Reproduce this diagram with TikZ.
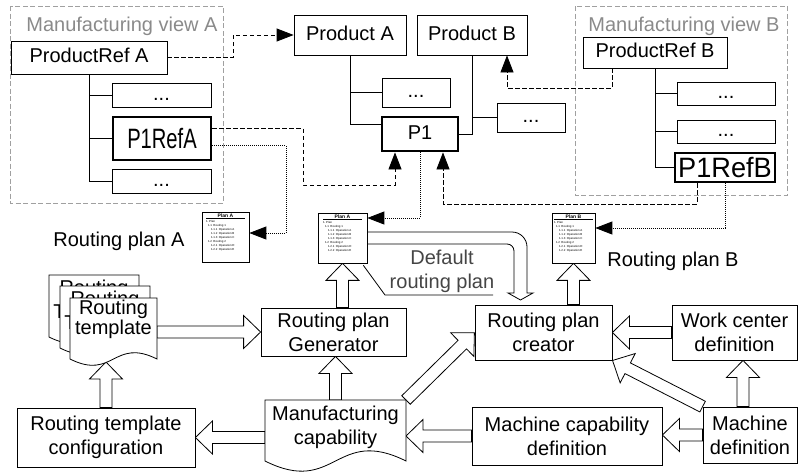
\documentclass[tikz,border=0pt]{standalone}
\usepackage{fontspec}
\usepackage{graphicx}
\setmainfont{Liberation Sans}
\usetikzlibrary{arrows.meta,calc,backgrounds}

\definecolor{viewgray}{HTML}{A0A0A0}
\definecolor{titlegray}{HTML}{8A8A8A}
\definecolor{notegray}{HTML}{454545}

\tikzset{
  bigfont/.style={font=\fontsize{20}{24}\selectfont},
  lbox/.style={draw, fill=white, line width=0.8pt, inner sep=1pt, bigfont,
               text height=14.5pt, text depth=4pt},
  mbox/.style={draw, fill=white, line width=0.8pt, inner sep=1pt, bigfont, align=center},
  thickbox/.style={line width=2.8pt},
  refbox/.style={lbox, thickbox, font=\fontsize{28}{30}\selectfont,
                 text height=20pt, text depth=0pt},
  viewbox/.style={draw=viewgray, dash pattern=on 5pt off 2.5pt, line width=0.9pt},
  viewtitle/.style={text=titlegray, bigfont, inner sep=0pt},
  tiptri/.style={-{Triangle[length=17pt,width=13pt]}},
  dashconn/.style={line width=0.8pt, dash pattern=on 4.5pt off 2.5pt, tiptri},
  dotconn/.style={line width=0.8pt, dash pattern=on 1pt off 1pt, tiptri},
  tree/.style={line width=0.8pt},
  hollow/.style={draw, fill=white, line width=0.8pt, line join=miter},
  plandoc/.style={draw, fill=white, line width=0.7pt, inner sep=0pt},
  docline/.style={draw, fill=white, line width=0.8pt},
  holder/.style={inner sep=0pt, outer sep=0pt},
  doctext/.style={inner sep=0pt, bigfont, align=center},
  lbl/.style={inner sep=0pt, bigfont},
  note/.style={inner sep=0pt, bigfont, align=center, text=notegray},
}

% rectangle node from its corners: [style] name x1 y1 x2 y2 text
\newcommand\rnode[7][]{%
  \node[#1, minimum width={#5-#3}, minimum height={#6-#4}] (#2)
    at ({(#3+#5)/2},{(#4+#6)/2}) {#7};}

% document shape with a wavy lower edge: [text style] name x top width waveline text
\newcommand\docnode[7][]{%
  \filldraw[docline] (#3,#4) -- ({#3+#5},#4) -- ({#3+#5},#6)
    .. controls ({#3+#5/2},{#6-#5/4}) and ({#3+#5/2},{#6+#5/4}) .. (#3,#6) -- cycle;
  \node[holder, minimum width={#5}, minimum height={#6-#4}] (#2)
    at ({#3+#5/2},{(#4+#6)/2}) {};
  \node[doctext, #1] (#2txt) at (#2.center) {#7};}

% hollow block arrow from #1 to #2
\newcommand\blockarrow[2]{%
  \draw[hollow] let \p1=(#1), \p2=(#2),
      \n1={atan2(\y2-\y1,\x2-\x1)}, \n2={veclen(\x2-\x1,\y2-\y1)} in
    [shift={(\p1)}, rotate=\n1]
    (0pt,-6pt) -- (\n2-17pt,-6pt) -- (\n2-17pt,-16.5pt) -- (\n2,0pt)
    -- (\n2-17pt,16.5pt) -- (\n2-17pt,6pt) -- (0pt,6pt) -- cycle;}

% small routing plan sheet
\newcommand\plancontent[1]{%
  \begin{minipage}[c][46pt][t]{39pt}
    \centering\fontsize{5}{5.5}\selectfont\bfseries #1\par
    \vspace{0.8pt}\hrule height 0.6pt\vspace{1.8pt}
    \raggedright\fontsize{2.9}{3.95}\selectfont\mdseries
    1.\ Plan\par
    \hspace*{2pt}1.1\enspace Routing 1\par
    \hspace*{5pt}1.1.1\enspace Operation A\par
    \hspace*{5pt}1.1.2\enspace Operation B\par
    \hspace*{5pt}1.1.3\enspace Operation C\par
    \hspace*{2pt}1.2\enspace Routing 2\par
    \hspace*{5pt}1.2.1\enspace Operation D\par
    \hspace*{5pt}1.2.2\enspace Operation E\par
  \end{minipage}}

\begin{document}
\begin{tikzpicture}[x=1pt, y=-1pt]
\useasboundingbox (0,0) rectangle (798,472);

% ---------- product structure ----------
\rnode[lbox]{prefA}{11}{41}{167}{74}{ProductRef A}
\rnode[lbox]{dotsA1}{112}{83}{211}{107}{...}
\rnode[refbox]{p1refA}{113}{117}{211}{160}{\scalebox{0.72}[1]{P1RefA}}
\rnode[lbox]{dotsA2}{112}{169}{211}{193}{...}

\rnode[lbox]{prodA}{294}{15}{406}{55}{Product A}
\rnode[lbox]{prodB}{417}{15}{527}{55}{Product B}
\rnode[lbox]{dotsP}{382}{78}{450}{107}{...}
\rnode[lbox,thickbox]{p1}{382}{117}{458}{151}{P1}
\rnode[lbox]{dotsB}{497}{103}{565}{132}{...}

\rnode[lbox]{prefB}{583}{37}{727}{68}{ProductRef B}
\rnode[lbox]{dotsB1}{677}{82}{775}{105}{...}
\rnode[lbox]{dotsB2}{677}{120}{775}{143}{...}
\rnode[refbox]{p1refB}{675}{153}{775}{182}{\scalebox{0.97}[1]{P1RefB}}

\node[viewtitle] (viewAtitle) at (122,26) {Manufacturing view A};
\node[viewtitle] (viewBtitle) at (684,26) {Manufacturing view B};

% ---------- routing plan sheets ----------
\rnode[plandoc]{planAl}{202}{212}{249}{262}{\plancontent{Plan A}}
\rnode[plandoc]{planAm}{318}{213}{367}{263}{\plancontent{Plan A}}
\rnode[plandoc]{planB}{552}{213}{595}{263}{\plancontent{Plan B}}

\node[lbl] (lblA) at (119,241) {Routing plan A};
\node[lbl] (lblB) at (673,261) {Routing plan B};
\node[note] (defTxt) at (442,271.5) {Default\\routing plan};

% ---------- tools ----------
\rnode[mbox]{gen}{261}{308}{406}{356}{Routing plan\\Generator}
\rnode[mbox]{creator}{475}{305}{612}{360}{Routing plan\\creator}
\rnode[mbox]{work}{672}{305}{797}{360}{Work center\\definition}
\rnode[mbox]{mcd}{472}{407}{662}{465}{Machine capability\\definition}
\rnode[mbox]{mdef}{703}{407}{797}{463}{Machine\\definition}
\rnode[mbox]{config}{17}{408}{195}{467}{Routing template\\configuration}

\docnode[yshift=5pt]{tplK}{49}{275}{90}{337}{Routing\\Template}
\docnode[yshift=4.5pt]{tplM}{60}{286}{90}{348}{Routing\\Template}
\docnode[yshift=9pt, font=\fontsize{20}{16}\selectfont]{tplF}{70}{298}{87}{359}{Routing\\template}
\docnode[yshift=3pt]{mcap}{265}{400}{141}{461}{Manufacturing\\capability}

% ---------- connectors ----------
\begin{pgfonlayer}{background}
  \draw[viewbox] (10,6) rectangle (223,203);
  \draw[viewbox] (575,6) rectangle (787,195);

  % product trees
  \draw[tree] (prefA.south) |- (dotsA2.west);
  \draw[tree] (prefA.south |- dotsA1.west) -- (dotsA1.west);
  \draw[tree] (prefA.south |- p1refA.west) -- (p1refA.west);

  \coordinate (p1L) at ($(p1.west)+(0,-10)$);
  \draw[tree] (prodA.south) |- (p1L);
  \draw[tree] (prodA.south |- dotsP.west) -- (dotsP.west);
  \draw[tree] (prodB.south) |- (p1.east);
  \draw[tree] (prodB.south |- dotsB.west) -- (dotsB.west);

  \draw[tree] (prefB.south) |- (p1refB.west);
  \draw[tree] (prefB.south |- dotsB1.west) -- (dotsB1.west);
  \draw[tree] (prefB.south |- dotsB2.west) -- (dotsB2.west);

  % references between views and products
  \coordinate (bendA) at (233,0);
  \draw[dashconn] (prefA.east) -| (bendA |- prodA.west) -- (prodA.west);

  \coordinate (aOut1) at ($(p1refA.east)+(0,-10)$);
  \coordinate (aOut2) at ($(p1refA.east)+(0,7)$);
  \coordinate (p1In1) at ($(p1.south)+(-25,0)$);
  \coordinate (p1In2) at ($(p1.south)+(23,0)$);
  \coordinate (bendB) at (303,185);
  \draw[dashconn] (aOut1) -| (bendB) -| (p1In1);

  \coordinate (bendC) at (286,0);
  \coordinate (planAlIn) at ($(planAl.east)+(0,-4)$);
  \draw[dotconn] (aOut2) -| (bendC |- planAlIn) -- (planAlIn);

  \coordinate (planAmIn) at ($(planAm.east)+(0,-20)$);
  \draw[dotconn] (p1.south) |- (planAmIn);

  \coordinate (bOut1) at ($(p1refB.south)+(-28,0)$);
  \coordinate (bendD) at (0,204);
  \draw[dashconn] (bOut1) |- (bendD -| p1In2) -- (p1In2);

  \coordinate (planBIn) at ($(planB.east)+(0,-10)$);
  \draw[dotconn] (p1refB.south) |- (planBIn);

  \coordinate (cOut) at ($(prefB.south)+(-43,0)$);
  \coordinate (prodBIn) at ($(prodB.south)+(35,0)$);
  \coordinate (bendE) at (0,88);
  \draw[dashconn] (cOut) |- (bendE -| prodBIn) -- (prodBIn);

  % default routing plan handed to the creator
  \draw[hollow] (367,232) -- (512,232) .. controls (520.3,232) and (527,238.7) .. (527,247)
    -- (527,293) -- (533,293) -- (520.5,300) -- (508,293) -- (514,293) -- (514,251)
    .. controls (514,247.1) and (510.9,244) .. (507,244) -- (367,244);
  \draw[line width=0.8pt] (planAm.south east) ++(-4,2) -- (385,295) -- (493,295);

  % data flow
  \blockarrow{gen.west -| tplF.east}{gen.west}
  \blockarrow{config.north}{$(config.north |- tplF.south)+(0,3)$}
  \blockarrow{mcap.west |- config.east}{config.east}
  \blockarrow{mcd.west}{mcd.west -| mcap.east}
  \blockarrow{mdef.west}{mdef.west -| mcd.east}
  \coordinate (mdefUp) at ($(mdef.north)+(-7,0)$);
  \blockarrow{mdefUp}{mdefUp |- work.south}
  \blockarrow{work.west}{creator.east}
  \blockarrow{mdef.north west}{creator.south east}
  \blockarrow{mcap.north east}{creator.west}
  \blockarrow{gen.north -| planAm.south}{planAm.south}
  \blockarrow{mcap.north}{mcap.north |- gen.south}
  \blockarrow{creator.north -| planB.south}{planB.south}
\end{pgfonlayer}
\end{tikzpicture}
\end{document}
